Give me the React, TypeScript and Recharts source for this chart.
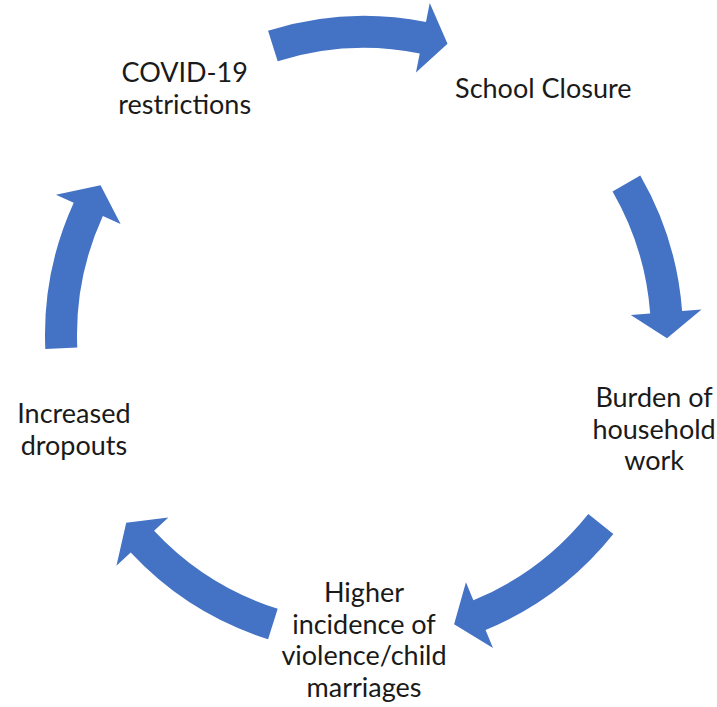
import { PieChart, Pie, Cell } from 'recharts';

// five steps of the cycle, clockwise from the top-left node
const stepLines = [
  ['COVID-19', 'restrictions'],
  ['School Closure'],
  ['Burden of', 'household', 'work'],
  ['Higher', 'incidence of', 'violence/child', 'marriages'],
  ['Increased', 'dropouts'],
];

// angular spans (degrees), clockwise from the tail of the top arrow
const arrowSpans = [33.5, 30.6, 34.1, 34.2, 32.1];
const headSpans = [4.8, 4.9, 5.1, 4.7, 5.1];
const gapSpans = [44, 38, 34.8, 35.8, 42.9];

const ARROW_START = 107.5;
const NODE_START = 162;

const BLUE = '#4472C4';
const RAD = Math.PI / 180;
const FONT_SIZE = 27;
const LINE_H = 31.5;
const HEAD_HALF = 35.5;

const ringData = arrowSpans.flatMap((span, i) => [
  { kind: 'arrow', value: span, head: headSpans[i] },
  { kind: 'gap', value: gapSpans[i], head: 0 },
]);

const nodeData = stepLines.map((lines) => ({ name: lines.join(' '), value: 1, lines }));

const polar = (cx: number, cy: number, r: number, a: number) => ({
  x: cx + r * Math.cos(-a * RAD),
  y: cy + r * Math.sin(-a * RAD),
});

function renderArrow(props: any) {
  const { cx, cy, startAngle, endAngle, innerRadius, outerRadius, index } = props;
  const item = props.payload ?? props;
  if (item.kind !== 'arrow') return <g key={`a-${index}`} />;

  const dir = Math.sign(endAngle - startAngle);
  const base = endAngle - dir * item.head;
  const mid = (innerRadius + outerRadius) / 2;
  const sweep = dir < 0 ? 1 : 0;

  const o0 = polar(cx, cy, outerRadius, startAngle);
  const o1 = polar(cx, cy, outerRadius, base);
  const h1 = polar(cx, cy, mid + HEAD_HALF, base);
  const tip = polar(cx, cy, mid, endAngle);
  const h2 = polar(cx, cy, mid - HEAD_HALF, base);
  const i1 = polar(cx, cy, innerRadius, base);
  const i0 = polar(cx, cy, innerRadius, startAngle);

  const d = [
    `M${o0.x},${o0.y}`,
    `A${outerRadius},${outerRadius} 0 0 ${sweep} ${o1.x},${o1.y}`,
    `L${h1.x},${h1.y}`,
    `L${tip.x},${tip.y}`,
    `L${h2.x},${h2.y}`,
    `L${i1.x},${i1.y}`,
    `A${innerRadius},${innerRadius} 0 0 ${1 - sweep} ${i0.x},${i0.y}`,
    'Z',
  ].join(' ');

  return <path key={`a-${index}`} d={d} fill={BLUE} stroke="none" />;
}

function renderNode(props: any) {
  const { cx, cy, startAngle, endAngle, outerRadius, index } = props;
  const item = props.payload ?? props;
  const lines: string[] = item.lines ?? [];
  const midAngle = (startAngle + endAngle) / 2;
  const p = polar(cx, cy, outerRadius, midAngle);
  const n = lines.length;

  return (
    <text
      key={`n-${index}`}
      x={p.x}
      y={p.y}
      textAnchor="middle"
      fontFamily="Lato, 'Noto Sans', sans-serif"
      fontSize={FONT_SIZE}
      fill="#1a1a1a"
    >
      {lines.map((line, i) => (
        <tspan key={i} x={p.x} y={p.y + (i - (n - 1) / 2) * LINE_H + FONT_SIZE * 0.36}>
          {line}
        </tspan>
      ))}
    </text>
  );
}

export default function App() {
  return (
    <div style={{ position: 'absolute', left: 0, top: 0, background: '#fff' }}>
      <PieChart width={717} height={707} margin={{ top: 0, right: 0, bottom: 0, left: 0 }}>
        <Pie
          data={ringData}
          dataKey="value"
          cx={364}
          cy={335}
          innerRadius={287}
          outerRadius={319}
          startAngle={ARROW_START}
          endAngle={ARROW_START - 360}
          stroke="none"
          label={renderArrow}
          labelLine={false}
          isAnimationActive={false}
        >
          {ringData.map((_, i) => (
            <Cell key={i} fill="transparent" />
          ))}
        </Pie>
        <Pie
          data={nodeData}
          dataKey="value"
          cx={364}
          cy={335}
          innerRadius={0}
          outerRadius={305}
          startAngle={NODE_START}
          endAngle={NODE_START - 360}
          stroke="none"
          label={renderNode}
          labelLine={false}
          isAnimationActive={false}
        >
          {nodeData.map((_, i) => (
            <Cell key={i} fill="transparent" />
          ))}
        </Pie>
      </PieChart>
    </div>
  );
}
